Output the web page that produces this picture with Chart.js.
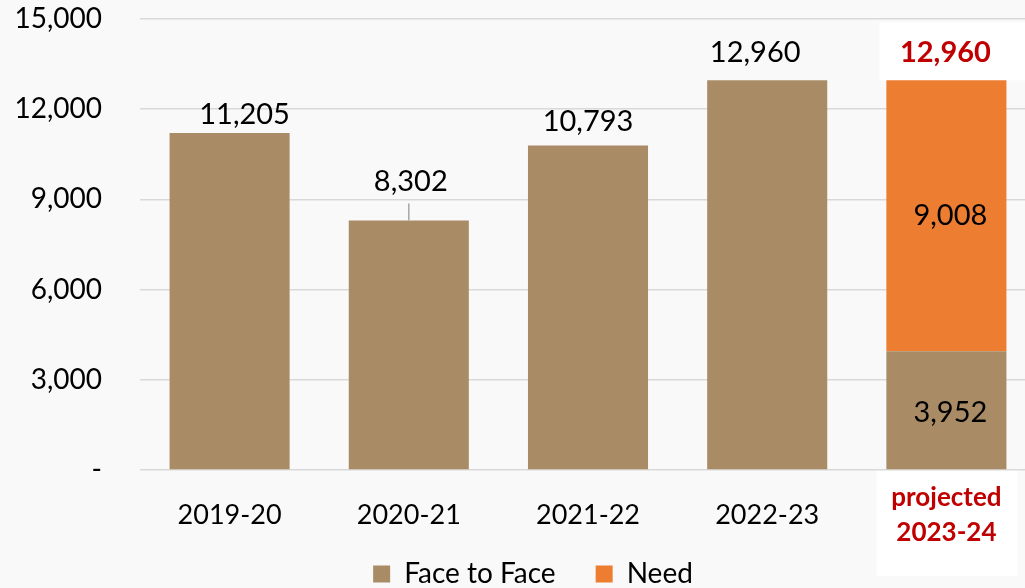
<!DOCTYPE html>
<html>
<head>
<meta charset="utf-8">
<script src="https://cdn.jsdelivr.net/npm/chart.js@4.4.1/dist/chart.umd.min.js"></script>
<style>
  html, body { margin: 0; padding: 0; background: #f9f9f9; overflow: hidden; }
  #wrap { width: 1066px; height: 588px; }
</style>
</head>
<body>
<div id="wrap"><canvas id="chart" width="1066" height="588"></canvas></div>
<script>
// chart data
const years = ['2019-20', '2020-21', '2021-22', '2022-23', ['projected', '2023-24']];
const faceToFace = [11205, 8302, 10793, 12960, 3952];
const need = [null, null, null, null, 9008];
const projectedTotal = 12960;
const yTicks = [0, 3000, 6000, 9000, 12000, 15000];

const BROWN = '#a98c66';
const ORANGE = '#ed7d31';
const RED = '#c00000';
const FONT = 'Lato, "Open Sans", sans-serif';

// label nudges (px) so the value labels sit like the original
const labelDx = [15, 2, 0, -12];
const labelDy = [18, 39, 24, 28];

const fmt = v => v.toLocaleString('en-US');

// white boxes behind the projected column (drawn first, under grid and ticks)
const projectedBoxes = {
  id: 'projectedBoxes',
  afterLayout(chart) {
    // let the x tick labels spill below the squeezed axis box
    chart.scales.x.bottom = chart.height;
  },
  beforeDraw(chart) {
    const { ctx, scales: { x, y } } = chart;
    const cx = x.getPixelForValue(4);
    const top = y.getPixelForValue(projectedTotal);
    const base = y.getPixelForValue(0);
    ctx.save();
    ctx.fillStyle = '#ffffff';
    ctx.fillRect(cx - 67, top - 58, 160, 58);
    ctx.fillRect(cx - 70, base, 141, 106);
    ctx.restore();
  }
};

// value labels, plus the leader line under 8,302
const valueLabels = {
  id: 'valueLabels',
  afterDatasetsDraw(chart) {
    const { ctx } = chart;
    const m0 = chart.getDatasetMeta(0);
    const m1 = chart.getDatasetMeta(1);
    ctx.save();
    ctx.textAlign = 'center';
    ctx.textBaseline = 'middle';
    ctx.font = '29px ' + FONT;
    ctx.fillStyle = '#000';
    for (let i = 0; i < 4; i++) {
      const bar = m0.data[i];
      const ly = bar.y - labelDy[i];
      ctx.fillText(fmt(faceToFace[i]), bar.x + labelDx[i], ly);
      if (i === 1) {
        ctx.strokeStyle = '#a6a6a6';
        ctx.lineWidth = 1.5;
        ctx.beginPath();
        ctx.moveTo(bar.x, ly + 22);
        ctx.lineTo(bar.x, bar.y);
        ctx.stroke();
      }
    }
    // projected column
    const low = m0.data[4];
    const high = m1.data[4];
    ctx.fillText(fmt(faceToFace[4]), low.x + 4, (low.y + low.base) / 2 + 2);
    ctx.fillText(fmt(need[4]), high.x + 4, (high.y + high.base) / 2);
    ctx.font = 'bold 29px ' + FONT;
    ctx.fillStyle = RED;
    ctx.fillText(fmt(projectedTotal), high.x - 1, high.y - 28);
    ctx.restore();
  }
};

new Chart(document.getElementById('chart'), {
  type: 'bar',
  data: {
    labels: years,
    datasets: [
      { label: 'Face to Face', data: faceToFace, backgroundColor: BROWN,
        barPercentage: 0.67, categoryPercentage: 1 },
      { label: 'Need', data: need, backgroundColor: ORANGE,
        barPercentage: 0.67, categoryPercentage: 1 }
    ]
  },
  options: {
    responsive: false,
    animation: false,
    layout: { padding: { top: 19, right: 0, left: 0, bottom: -10 } },
    plugins: {
      tooltip: { enabled: false },
      legend: {
        position: 'bottom',
        labels: {
          color: '#000',
          font: { family: FONT, size: 28 },
          boxWidth: 17,
          boxHeight: 17,
          padding: 40,
          useBorderRadius: false
        }
      }
    },
    scales: {
      x: {
        stacked: true,
        grid: { display: false },
        border: { display: false },
        afterFit: s => { s.height = 50; s.paddingRight = 30; s.paddingLeft = 0; },
        ticks: {
          padding: 20,
          crossAlign: 'center',
          maxRotation: 0,
          color: c => c.index === 4 ? RED : '#000',
          font: c => c.index === 4
            ? { family: FONT, size: 26, weight: 'bold', lineHeight: 1.35 }
            : { family: FONT, size: 27, lineHeight: 1.3 }
        }
      },
      y: {
        stacked: true,
        min: 0,
        max: 15000,
        afterFit: s => { s.width = 140; s.paddingTop = 0; s.paddingBottom = 0; },
        afterBuildTicks: s => { s.ticks = yTicks.map(v => ({ value: v })); },
        grid: { color: '#d9d9d9', lineWidth: 1.5, drawTicks: false },
        border: { display: false },
        ticks: {
          padding: 38,
          color: '#000',
          font: { family: FONT, size: 28 },
          callback: v => v === 0 ? '-' : fmt(v)
        }
      }
    }
  },
  plugins: [projectedBoxes, valueLabels]
});
</script>
</body>
</html>
